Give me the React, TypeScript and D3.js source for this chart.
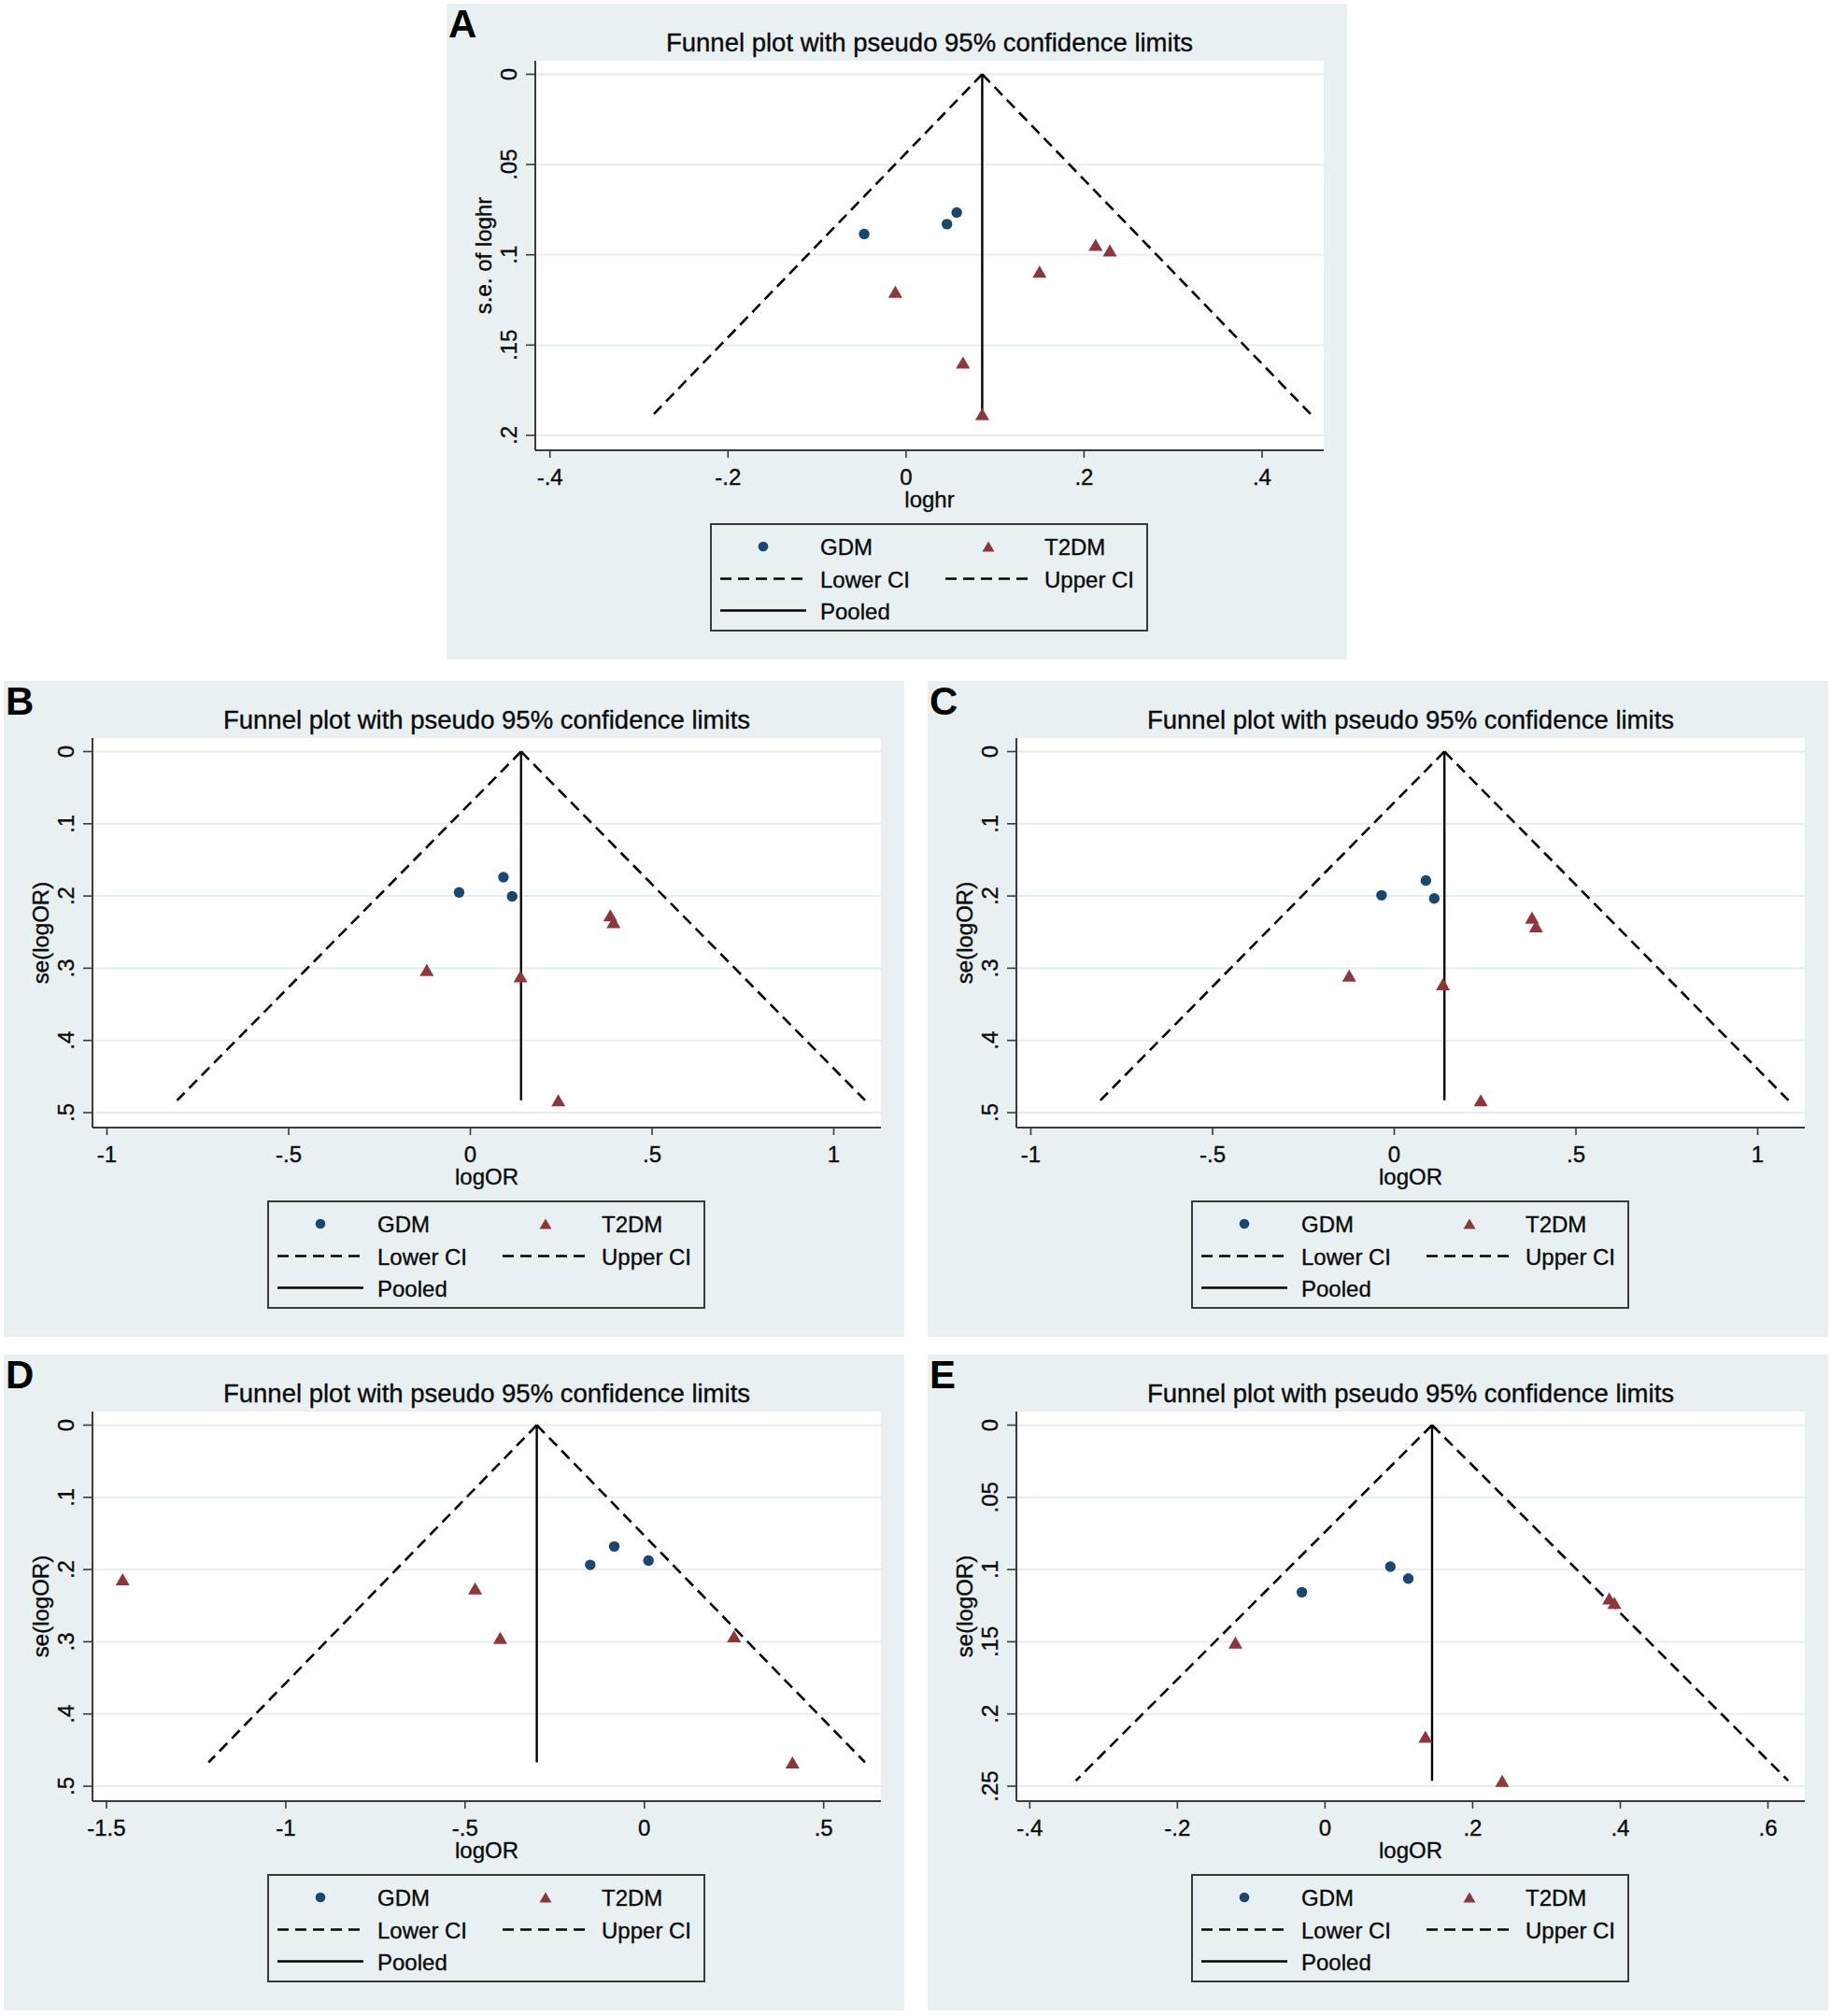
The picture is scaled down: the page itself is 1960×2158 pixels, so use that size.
import React from 'react';
import * as d3 from 'd3';

// ---------- data ----------
const panelLabels = ['A', 'B', 'C', 'D', 'E'];
const chartTitle = 'Funnel plot with pseudo 95% confidence limits';
const xTitles = ['loghr', 'logOR', 'logOR', 'logOR', 'logOR'];
const yTitles = ['s.e. of loghr', 'se(logOR)', 'se(logOR)', 'se(logOR)', 'se(logOR)'];
const legendLabels = ['GDM', 'T2DM', 'Lower CI', 'Upper CI', 'Pooled'];

const xTicksA = [-0.4, -0.2, 0, 0.2, 0.4];
const xTicksB = [-1, -0.5, 0, 0.5, 1];
const xTicksC = [-1, -0.5, 0, 0.5, 1];
const xTicksD = [-1.5, -1, -0.5, 0, 0.5];
const xTicksE = [-0.4, -0.2, 0, 0.2, 0.4, 0.6];

const yTicksA = [0, 0.05, 0.1, 0.15, 0.2];
const yTicksB = [0, 0.1, 0.2, 0.3, 0.4, 0.5];
const yTicksC = [0, 0.1, 0.2, 0.3, 0.4, 0.5];
const yTicksD = [0, 0.1, 0.2, 0.3, 0.4, 0.5];
const yTicksE = [0, 0.05, 0.1, 0.15, 0.2, 0.25];

// axis ranges (value at left / right edge of plot region)
const xRangeA = [-0.4165, 0.4693];
const xRangeB = [-1.0398, 1.1298];
const xRangeC = [-1.0398, 1.1298];
const xRangeD = [-1.539, 0.6597];
const xRangeE = [-0.4181, 0.65];

const pooledA = 0.0856;
const pooledB = 0.1396;
const pooledC = 0.138;
const pooledD = -0.3;
const pooledE = 0.145;

// [effect, standard error]
const gdmA = [[-0.047, 0.0885], [0.046, 0.083], [0.057, 0.0766]];
const t2dmA = [[-0.012, 0.1205], [0.15, 0.1093], [0.213, 0.0944], [0.229, 0.0975], [0.064, 0.1596], [0.0856, 0.1882]];

const gdmB = [[-0.031, 0.195], [0.091, 0.174], [0.115, 0.2005]];
const t2dmB = [[-0.12, 0.3025], [0.138, 0.311], [0.385, 0.2266], [0.394, 0.236], [0.242, 0.483]];

const gdmC = [[-0.035, 0.199], [0.087, 0.1785], [0.11, 0.2034]];
const t2dmC = [[-0.124, 0.31], [0.134, 0.322], [0.379, 0.23], [0.39, 0.242], [0.238, 0.483]];

const gdmD = [[-0.151, 0.1935], [-0.084, 0.168], [0.0115, 0.1876]];
const t2dmD = [[-1.455, 0.2136], [-0.472, 0.226], [-0.402, 0.2947], [0.25, 0.2923], [0.413, 0.467]];

const gdmE = [[-0.0313, 0.1157], [0.0885, 0.098], [0.1128, 0.1062]];
const t2dmE = [[-0.1214, 0.1506], [0.136, 0.2157], [0.385, 0.12], [0.392, 0.123], [0.24, 0.2462]];

const panelData = [
  { xTicks: xTicksA, yTicks: yTicksA, xRange: xRangeA, pooled: pooledA, gdm: gdmA, t2dm: t2dmA },
  { xTicks: xTicksB, yTicks: yTicksB, xRange: xRangeB, pooled: pooledB, gdm: gdmB, t2dm: t2dmB },
  { xTicks: xTicksC, yTicks: yTicksC, xRange: xRangeC, pooled: pooledC, gdm: gdmC, t2dm: t2dmC },
  { xTicks: xTicksD, yTicks: yTicksD, xRange: xRangeD, pooled: pooledD, gdm: gdmD, t2dm: t2dmD },
  { xTicks: xTicksE, yTicks: yTicksE, xRange: xRangeE, pooled: pooledE, gdm: gdmE, t2dm: t2dmE },
];

// ---------- layout / style ----------
const W = 1960;
const H = 2158;
const origins = [
  [478, 4],
  [4, 729],
  [993, 729],
  [4, 1450],
  [993, 1450],
];
const PW = 964;
const PH = 702;
const plotL = 95;
const plotR = 939;
const plotT = 61;
const plotB = 478;
const yZero = 75.5;
const yMax = 462;

const BG = '#e9f0f2';
const GRID = '#e4edf0';
const AXIS = '#3a3a3a';
const NAVY = '#1a476f';
const MAROON = '#90353b';
const INK = '#0a0a0a';
const FONT = '"Liberation Sans", Arial, Helvetica, sans-serif';
const DASH = '12,7';

const textStyle = { stroke: INK, strokeWidth: 0.35 } as const;

const fmt = (v: number) => (v === 0 ? '0' : String(v).replace(/^(-?)0\./, '$1.'));

const tri = (cx: number, cy: number, w = 15, h = 13) =>
  `M${cx},${cy - h / 2}L${cx + w / 2},${cy + h / 2}L${cx - w / 2},${cy + h / 2}Z`;

function Panel({ idx }: { idx: number }) {
  const d = panelData[idx];
  const [ox, oy] = origins[idx];
  const x = d3.scaleLinear().domain(d.xRange).range([ox + plotL, ox + plotR]);
  const y = d3
    .scaleLinear()
    .domain([0, d.yTicks[d.yTicks.length - 1]])
    .range([oy + yZero, oy + yMax]);
  const allSe = [...d.gdm, ...d.t2dm].map((p) => p[1]);
  const maxSe = d3.max(allSe) as number;
  const line = d3
    .line<number[]>()
    .x((p) => x(p[0]))
    .y((p) => y(p[1]));
  const lower = [
    [d.pooled, 0],
    [d.pooled - 1.96 * maxSe, maxSe],
  ];
  const upper = [
    [d.pooled, 0],
    [d.pooled + 1.96 * maxSe, maxSe],
  ];
  const pooledLine = [
    [d.pooled, 0],
    [d.pooled, maxSe],
  ];
  const cx = ox + (plotL + plotR) / 2;
  const lgL = ox + 283;
  const lgT = oy + 557;
  const rowY = [oy + 581, oy + 615.5, oy + 649.5];
  const col1 = ox + 293;
  const col2 = ox + 534;
  const keyW = 92;
  const txt1 = ox + 400;
  const txt2 = ox + 640;

  return (
    <g>
      <rect x={ox} y={oy} width={PW} height={PH} fill={BG} />
      <text x={ox + 2} y={oy + 36} fontSize={42} fontWeight="bold" fontFamily={FONT} fill="#000">
        {panelLabels[idx]}
      </text>
      <text x={cx} y={oy + 51} fontSize={27.5} fontFamily={FONT} textAnchor="middle" fill={INK} style={textStyle}>
        {chartTitle}
      </text>
      <rect x={ox + plotL} y={oy + plotT} width={plotR - plotL} height={plotB - plotT} fill="#fff" />
      {d.yTicks.map((t) => (
        <line key={'g' + t} x1={ox + plotL} x2={ox + plotR} y1={y(t)} y2={y(t)} stroke={GRID} strokeWidth={2} />
      ))}
      {/* axes */}
      <line x1={ox + plotL} x2={ox + plotL} y1={oy + plotT} y2={oy + plotB} stroke={AXIS} strokeWidth={2} />
      <line x1={ox + plotL} x2={ox + plotR} y1={oy + plotB} y2={oy + plotB} stroke={AXIS} strokeWidth={2} />
      {d.yTicks.map((t) => (
        <g key={'y' + t}>
          <line x1={ox + plotL - 10} x2={ox + plotL} y1={y(t)} y2={y(t)} stroke={AXIS} strokeWidth={1.6} />
          <text
            transform={`translate(${ox + 75},${y(t)}) rotate(-90)`}
            textAnchor="middle"
            fontSize={24}
            fontFamily={FONT}
            fill={INK}
            style={textStyle}
          >
            {fmt(t)}
          </text>
        </g>
      ))}
      {d.xTicks.map((t) => (
        <g key={'x' + t}>
          <line x1={x(t)} x2={x(t)} y1={oy + plotB} y2={oy + plotB + 8} stroke={AXIS} strokeWidth={1.6} />
          <text x={x(t)} y={oy + 515} textAnchor="middle" fontSize={24} fontFamily={FONT} fill={INK} style={textStyle}>
            {fmt(t)}
          </text>
        </g>
      ))}
      <text x={cx} y={oy + 539} textAnchor="middle" fontSize={24} fontFamily={FONT} fill={INK} style={textStyle}>
        {xTitles[idx]}
      </text>
      <text
        transform={`translate(${ox + 48},${oy + (plotT + plotB) / 2}) rotate(-90)`}
        textAnchor="middle"
        fontSize={24}
        fontFamily={FONT}
        fill={INK}
        style={textStyle}
      >
        {yTitles[idx]}
      </text>
      {/* funnel */}
      <path d={line(lower) || ''} stroke="#000" strokeWidth={2.6} fill="none" strokeDasharray={DASH} />
      <path d={line(upper) || ''} stroke="#000" strokeWidth={2.6} fill="none" strokeDasharray={DASH} />
      <path d={line(pooledLine) || ''} stroke="#000" strokeWidth={2.4} fill="none" />
      {d.gdm.map((p, i) => (
        <circle key={'c' + i} cx={x(p[0])} cy={y(p[1])} r={5.7} fill={NAVY} />
      ))}
      {d.t2dm.map((p, i) => (
        <path key={'t' + i} d={tri(x(p[0]), y(p[1]))} fill={MAROON} />
      ))}
      {/* legend */}
      <rect x={lgL} y={lgT} width={467} height={114} fill={BG} stroke={AXIS} strokeWidth={2} />
      <circle cx={col1 + keyW / 2} cy={rowY[0]} r={5.3} fill={NAVY} />
      <path d={tri(col2 + keyW / 2, rowY[0], 13, 11)} fill={MAROON} />
      <line x1={col1} x2={col1 + keyW} y1={rowY[1]} y2={rowY[1]} stroke="#000" strokeWidth={2.4} strokeDasharray={DASH} />
      <line x1={col2} x2={col2 + keyW} y1={rowY[1]} y2={rowY[1]} stroke="#000" strokeWidth={2.4} strokeDasharray={DASH} />
      <line x1={col1} x2={col1 + keyW} y1={rowY[2]} y2={rowY[2]} stroke="#000" strokeWidth={2.4} />
      <text x={txt1} y={rowY[0] + 9} fontSize={24} fontFamily={FONT} fill={INK} style={textStyle}>{legendLabels[0]}</text>
      <text x={txt2} y={rowY[0] + 9} fontSize={24} fontFamily={FONT} fill={INK} style={textStyle}>{legendLabels[1]}</text>
      <text x={txt1} y={rowY[1] + 9} fontSize={24} fontFamily={FONT} fill={INK} style={textStyle}>{legendLabels[2]}</text>
      <text x={txt2} y={rowY[1] + 9} fontSize={24} fontFamily={FONT} fill={INK} style={textStyle}>{legendLabels[3]}</text>
      <text x={txt1} y={rowY[2] + 9} fontSize={24} fontFamily={FONT} fill={INK} style={textStyle}>{legendLabels[4]}</text>
    </g>
  );
}

export default function App() {
  return (
    <svg
      width={W}
      height={H}
      viewBox={`0 0 ${W} ${H}`}
      style={{ position: 'absolute', left: 0, top: 0, background: '#fff' }}
    >
      <rect x={0} y={0} width={W} height={H} fill="#fff" />
      {panelLabels.map((_, i) => (
        <Panel key={i} idx={i} />
      ))}
    </svg>
  );
}
